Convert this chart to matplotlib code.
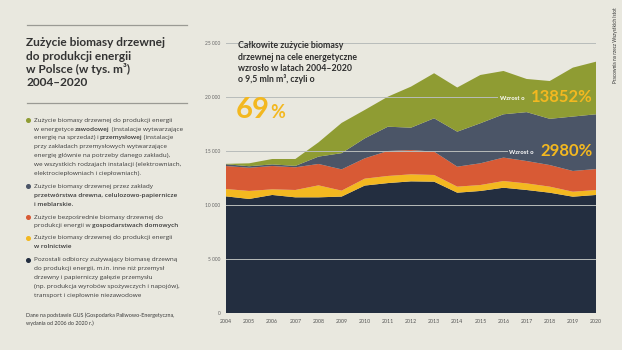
import matplotlib.pyplot as plt
from matplotlib.transforms import offset_copy

# -----------------------------------------------
# Data (thousand m3)
# -----------------------------------------------
years = list(range(2004, 2021))
pozostali = [10800, 10560, 10930, 10710, 10710, 10780, 11800, 12030, 12190,
             12160, 11140, 11300, 11600, 11390, 11140, 10770, 10930]
rolnictwo = [680, 740, 520, 680, 1110, 550, 640, 660, 650,
             620, 560, 550, 620, 610, 560, 460, 460]
gospodarstwa = [2130, 2150, 2160, 2100, 1980, 1970, 1880, 2310, 2250,
                2160, 1850, 2010, 2170, 2070, 2000, 1920, 1940]
przemysl_drzewny = [165, 140, 150, 130, 680, 1500, 1850, 2250, 2070,
                    3090, 3240, 3710, 4010, 4530, 4280, 5040, 5070]
energetyka = [35, 270, 500, 640, 1320, 2800, 2630, 2780, 3800,
              4170, 4090, 4470, 4010, 3070, 3500, 4530, 4870]
y_ticks = [0, 5000, 10000, 15000, 20000, 25000]
y_tick_labels = ["0", "5 000", "10 000", "15 000", "20 000", "25 000"]

BG = "#e9e8df"
NAVY = "#232e40"
YELLOW = "#f3b820"
RED = "#d85a35"
SLATE = "#4b5567"
OLIVE = "#8f9c33"
TXT = "#3a3a3a"
GRID = "#b8bcba"

W, H = 622, 350
fig = plt.figure(figsize=(6.22, 3.5), dpi=100, facecolor=BG)
plt.rcParams['font.family'] = ['Lato', 'DejaVu Sans']
BODY = ["Open Sans", "DejaVu Sans"]


def px(x, y):
    """pixel coords (from top-left) -> figure fraction"""
    return x / W, 1 - y / H


def rich_line(x, y, parts, size, color=TXT):
    """draw one line made of (text, bold) segments, one after another"""
    fx, fy = px(x, y)
    trans = fig.transFigure
    renderer = fig.canvas.get_renderer()
    for text, bold in parts:
        t = fig.text(fx, fy, text, fontsize=size, color=color, va="baseline",
                     fontweight="semibold" if bold else "normal", family=BODY,
                     transform=trans)
        w = t.get_window_extent(renderer=renderer).width
        trans = offset_copy(trans, fig=fig, x=w, y=0, units="dots")


# -----------------------------------------------
# Chart
# -----------------------------------------------
ax = fig.add_axes([226 / W, 1 - 313 / H, (596 - 226) / W, (313 - 43) / H])
ax.set_facecolor(BG)
ax.stackplot(years, pozostali, rolnictwo, gospodarstwa, przemysl_drzewny, energetyka,
             colors=[NAVY, YELLOW, RED, SLATE, OLIVE], linewidth=0)
ax.set_xlim(2004, 2020)
ax.set_ylim(0, 25000)

for v in y_ticks[1:]:
    end = 1.0
    if v == 20000:
        end = (497 - 226) / 370
    elif v == 15000:
        end = (507 - 226) / 370
    ax.axhline(v, xmin=0, xmax=end, color=GRID, lw=0.7, zorder=5)

for s in ax.spines.values():
    s.set_visible(False)
ax.set_xticks(years)
ax.set_xticklabels([str(y) for y in years], fontsize=3.8, color="#555555")
ax.set_yticks(y_ticks)
ax.set_yticklabels(y_tick_labels, fontsize=3.5, color="#666666")
ax.tick_params(length=0, pad=4)

# annotations inside chart
ann = ["Całkowite zużycie biomasy", "drzewnej na cele energetyczne",
       "wzrosło w latach 2004–2020", "o 9,5 mln m³, czyli o"]
for i, line in enumerate(ann):
    fig.text(*px(238, 48 + i * 11.5), line, fontsize=6.3, fontweight="bold",
             color="#2e2e2e", va="baseline")
fig.text(*px(236, 118), "69", fontsize=21, fontweight="bold", color=YELLOW, va="baseline")
fig.text(*px(270, 118), "%", fontsize=13, fontweight="bold", color=YELLOW, va="baseline")

fig.text(*px(525, 99.5), "Wzrost o", fontsize=4.3, fontweight="bold", color="white",
         va="baseline", ha="right")
fig.text(*px(593, 102), "13852%", fontsize=12, fontweight="bold", color=YELLOW,
         va="baseline", ha="right")
fig.text(*px(534, 154), "Wzrost o", fontsize=4.3, fontweight="bold", color="white",
         va="baseline", ha="right")
fig.text(*px(593, 156.5), "2980%", fontsize=12, fontweight="bold", color=YELLOW,
         va="baseline", ha="right")

fig.text(*px(615, 45), "Pracownia na rzecz Wszystkich Istot", fontsize=3.4,
         color="#333333", rotation=90, ha="center", va="center")

# -----------------------------------------------
# Left text panel
# -----------------------------------------------
for yy in (25, 103):
    fig.add_artist(plt.Line2D([27 / W, 187 / W], [1 - yy / H] * 2,
                              color="#9a9a94", lw=0.9, transform=fig.transFigure))

title = ["Zużycie biomasy drzewnej", "do produkcji energii",
         "w Polsce (w tys. m³)", "2004–2020"]
for i, line in enumerate(title):
    fig.text(*px(26.5, 46.5 + i * 13.2), line, fontsize=8.6, fontweight="bold",
             color="#333333", va="baseline")

bullets = [
    (OLIVE, 122, [
        [("Zużycie biomasy drzewnej do produkcji energii", False)],
        [("w energetyce ", False), ("zawodowej", True), (" (instalacje wytwarzające", False)],
        [("energię na sprzedaż) i ", False), ("przemysłowej", True), (" (instalacje", False)],
        [("przy zakładach przemysłowych wytwarzające", False)],
        [("energię głównie na potrzeby danego zakładu),", False)],
        [("we wszystkich rodzajach instalacji (elektrowniach,", False)],
        [("elektrociepłowniach i ciepłowniach).", False)],
    ]),
    (SLATE, 188, [
        [("Zużycie biomasy drzewnej przez zakłady", False)],
        [("przetwórstwa drewna, celulozowo-papiernicze", True)],
        [("i meblarskie.", True)],
    ]),
    (RED, 218.5, [
        [("Zużycie bezpośrednie biomasy drzewnej do", False)],
        [("produkcji energii w ", False), ("gospodarstwach domowych", True)],
    ]),
    (YELLOW, 239.5, [
        [("Zużycie biomasy drzewnej do produkcji energii", False)],
        [("w rolnictwie", True)],
    ]),
    (NAVY, 261.5, [
        [("Pozostali odbiorcy zużywający biomasę drzewną", False)],
        [("do produkcji energii, m.in. inne niż przemysł", False)],
        [("drzewny i papierniczy gałęzie przemysłu", False)],
        [("(np. produkcja wyrobów spożywczych i napojów),", False)],
        [("transport i ciepłownie niezawodowe", False)],
    ]),
]
for color, y0, lines in bullets:
    fig.add_artist(plt.Line2D([27.5 / W], [1 - (y0 - 2) / H], marker="o", ms=2.6,
                              color=color, transform=fig.transFigure))
    for i, parts in enumerate(lines):
        rich_line(33.5, y0 + i * 8.75, parts, 4.55)

fig.text(*px(26, 317.5), "Dane na podstawie GUS (Gospodarka Paliwowo-Energetyczna,",
         fontsize=3.9, color=TXT, va="baseline")
fig.text(*px(26, 325.5), "wydania od 2006 do 2020 r.)", fontsize=3.9, color=TXT,
         va="baseline")

fig.savefig("out.png", dpi=100, facecolor=BG)
